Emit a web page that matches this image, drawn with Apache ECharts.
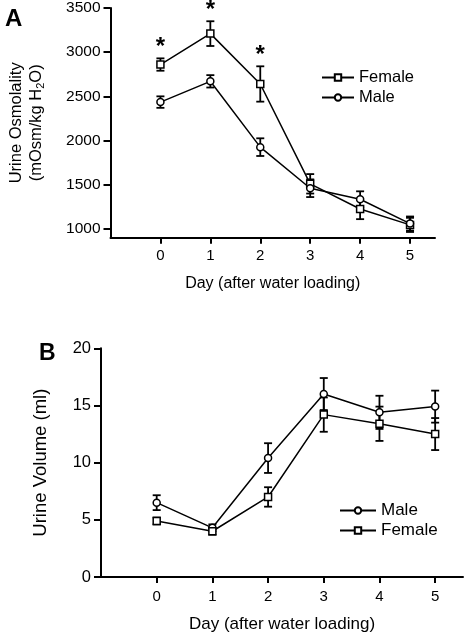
<!DOCTYPE html>
<html>
<head>
<meta charset="utf-8">
<script src="https://cdn.jsdelivr.net/npm/echarts@6/dist/echarts.min.js"></script>
<style>
html,body{margin:0;padding:0;background:#fff;}
#chart{width:464px;height:634px;}
</style>
</head>
<body>
<div id="chart"></div>
<script>
// ---- data ----
const days = [0, 1, 2, 3, 4, 5];
const osmoFemale = [2860, 3210, 2640, 1510, 1225, 1045];
const osmoFemaleErr = [70, 140, 200, 110, 115, 80];
const osmoMale = [2435, 2670, 1925, 1460, 1335, 1060];
const osmoMaleErr = [65, 70, 100, 100, 90, 80];
const starDays = [0, 1, 2];
const osmoTicks = [1000, 1500, 2000, 2500, 3000, 3500];
const volMale = [6.5, 4.3, 10.4, 16.0, 14.4, 14.9];
const volMaleErr = [0.65, 0.3, 1.3, 1.4, 1.45, 1.4];
const volFemale = [4.9, 4.0, 7.0, 14.2, 13.4, 12.5];
const volFemaleErr = [0.3, 0.3, 0.85, 1.5, 1.5, 1.4];
const volTicks = [0, 5, 10, 15, 20];

const FONT = 'Liberation Sans, Arial, sans-serif';
const chart = echarts.init(document.getElementById('chart'));

function pts(vals) { return days.map((d, i) => [d, vals[i]]); }
function errData(vals, errs) { return days.map((d, i) => [d, vals[i] - errs[i], vals[i] + errs[i]]); }

function errRender(params, api) {
  const x = api.value(0), lo = api.value(1), hi = api.value(2);
  const p1 = api.coord([x, lo]), p2 = api.coord([x, hi]);
  const w = 4;
  const st = { stroke: '#000', lineWidth: 1.8, fill: null };
  return {
    type: 'group',
    children: [
      { type: 'line', shape: { x1: p1[0], y1: p1[1], x2: p2[0], y2: p2[1] }, style: st },
      { type: 'line', shape: { x1: p1[0] - w, y1: p1[1], x2: p1[0] + w, y2: p1[1] }, style: st },
      { type: 'line', shape: { x1: p2[0] - w, y1: p2[1], x2: p2[0] + w, y2: p2[1] }, style: st }
    ]
  };
}
function starRender(params, api) {
  const p = api.coord([api.value(0), api.value(1)]);
  return {
    type: 'text', x: p[0], y: p[1] + 1,
    style: { text: '*', fontSize: 24, fontWeight: 'bold', fontFamily: FONT, fill: '#000', align: 'center', verticalAlign: 'bottom' }
  };
}

const axisLineStyle = { axisLine: { show: true, onZero: false, lineStyle: { color: '#000', width: 2 } } };
function xAx(gridIndex, fs, margin, gap) {
  return Object.assign({
    type: 'value', gridIndex, min: -1, max: 5.5,
    name: 'Day (after water loading)', nameLocation: 'middle', nameGap: gap,
    nameTextStyle: { fontSize: fs + 1, fontFamily: FONT, color: '#000' },
    axisTick: { show: true, length: 6, customValues: days, lineStyle: { color: '#000', width: 2 } },
    axisLabel: { customValues: days, fontSize: 15, fontFamily: FONT, color: '#000', margin: margin, formatter: v => String(v) },
    splitLine: { show: false }
  }, axisLineStyle);
}

const lineCommon = { lineStyle: { color: '#000', width: 1.5 }, symbolSize: 7, itemStyle: { color: '#fff', borderColor: '#000', borderWidth: 1.5 }, z: 3, animation: false };

chart.setOption({
  backgroundColor: '#fff',
  animation: false,
  title: [
    { text: 'A', left: 0, top: 2, textStyle: { fontSize: 24, fontWeight: 'bold', fontFamily: FONT, color: '#000' } },
    { text: 'B', left: 34, top: 337, textStyle: { fontSize: 23, fontWeight: 'bold', fontFamily: FONT, color: '#000' } }
  ],
  grid: [
    { left: 101, top: 6.7, width: 334, height: 231 },
    { left: 101, top: 348.3, width: 362, height: 230.4 }
  ],
  legend: [
    { orient: 'vertical', left: 316, top: 64, itemWidth: 32, itemHeight: 8, itemGap: 3,
      data: ['Female', 'Male'], textStyle: { fontSize: 16.5, fontFamily: FONT, color: '#000' } },
    { orient: 'vertical', left: 334, top: 497, itemWidth: 36, itemHeight: 8, itemGap: 3,
      data: ['Male', 'Female'], textStyle: { fontSize: 17, fontFamily: FONT, color: '#000' } }
  ],
  xAxis: [xAx(0, 15, 11, 38), xAx(1, 16, 12, 39)],
  yAxis: [
    Object.assign({
      type: 'value', gridIndex: 0, min: 900, max: 3500,
      name: '{a|Urine Osmolality}\n{a|(mOsm/kg H}{s|2}{a|O)}', nameLocation: 'middle', nameGap: 64,
      nameTextStyle: {
        fontSize: 16, fontFamily: FONT, color: '#000',
        rich: {
          a: { fontSize: 16.5, lineHeight: 20, fontFamily: FONT, color: '#000' },
          s: { fontSize: 11, lineHeight: 11, fontFamily: FONT, color: '#000', verticalAlign: 'bottom' }
        }
      },
      axisTick: { show: true, length: 7, customValues: osmoTicks, lineStyle: { color: '#000', width: 2 } },
      axisLabel: { customValues: osmoTicks, fontSize: 15.5, fontFamily: FONT, color: '#000', margin: 10, formatter: v => String(v) },
      splitLine: { show: false }
    }, axisLineStyle),
    Object.assign({
      type: 'value', gridIndex: 1, min: 0, max: 20, interval: 5,
      name: 'Urine Volume (ml)', nameLocation: 'middle', nameGap: 51,
      nameTextStyle: { fontSize: 18.5, fontFamily: FONT, color: '#000' },
      axisTick: { show: true, length: 7, lineStyle: { color: '#000', width: 2 } },
      axisLabel: { fontSize: 16.5, fontFamily: FONT, color: '#000', margin: 10, formatter: v => (volTicks.includes(v) ? String(v) : '') },
      splitLine: { show: false }
    }, axisLineStyle)
  ],
  series: [
    { type: 'custom', name: 'errA_F', xAxisIndex: 0, yAxisIndex: 0, renderItem: errRender, data: errData(osmoFemale, osmoFemaleErr), encode: { x: 0, y: [1, 2] }, z: 2, silent: true },
    { type: 'custom', name: 'errA_M', xAxisIndex: 0, yAxisIndex: 0, renderItem: errRender, data: errData(osmoMale, osmoMaleErr), encode: { x: 0, y: [1, 2] }, z: 2, silent: true },
    { type: 'custom', name: 'stars', xAxisIndex: 0, yAxisIndex: 0, renderItem: starRender, data: starDays.map(d => [d, osmoFemale[d] + osmoFemaleErr[d]]), encode: { x: 0, y: 1 }, z: 4, silent: true },
    Object.assign({ type: 'line', name: 'Female', xAxisIndex: 0, yAxisIndex: 0, symbol: 'rect', data: pts(osmoFemale) }, lineCommon),
    Object.assign({ type: 'line', name: 'Male', xAxisIndex: 0, yAxisIndex: 0, symbol: 'circle', data: pts(osmoMale) }, lineCommon),
    { type: 'custom', name: 'errB_M', xAxisIndex: 1, yAxisIndex: 1, renderItem: errRender, data: errData(volMale, volMaleErr), encode: { x: 0, y: [1, 2] }, z: 2, silent: true },
    { type: 'custom', name: 'errB_F', xAxisIndex: 1, yAxisIndex: 1, renderItem: errRender, data: errData(volFemale, volFemaleErr), encode: { x: 0, y: [1, 2] }, z: 2, silent: true },
    Object.assign({ type: 'line', name: 'Male', xAxisIndex: 1, yAxisIndex: 1, symbol: 'circle', data: pts(volMale) }, lineCommon),
    Object.assign({ type: 'line', name: 'Female', xAxisIndex: 1, yAxisIndex: 1, symbol: 'rect', data: pts(volFemale) }, lineCommon)
  ]
});
</script>
</body>
</html>
